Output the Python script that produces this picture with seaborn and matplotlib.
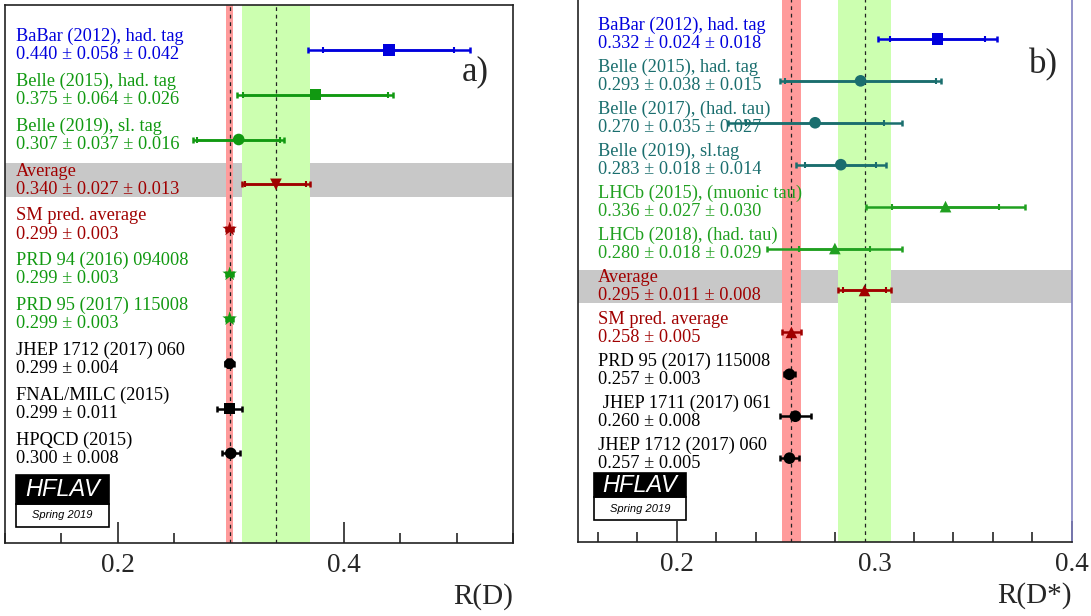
import numpy as np
import pandas as pd
import matplotlib.pyplot as plt
import seaborn as sns
from matplotlib.patches import Rectangle
from matplotlib.ticker import MultipleLocator

# ---- R(D) panel data ----
rd_labels = ["BaBar (2012), had. tag", "Belle (2015), had. tag", "Belle (2019), sl. tag",
             "Average", "SM pred. average", "PRD 94 (2016) 094008", "PRD 95 (2017) 115008",
             "JHEP 1712 (2017) 060", "FNAL/MILC (2015)", "HPQCD (2015)"]
rd_values = [0.440, 0.375, 0.307, 0.340, 0.299, 0.299, 0.299, 0.299, 0.299, 0.300]
rd_stat = [0.058, 0.064, 0.037, 0.027, 0.003, 0.003, 0.003, 0.004, 0.011, 0.008]
rd_syst = [0.042, 0.026, 0.016, 0.013, None, None, None, None, None, None]
rd_colors = ["#0000dd", "#119911", "#119911", "#a00000", "#a00000", "#119911", "#119911",
             "black", "black", "black"]
rd_markers = ["s", "s", "o", "v", "*", "*", "*", "8", "s", "o"]

# ---- R(D*) panel data ----
rds_labels = ["BaBar (2012), had. tag", "Belle (2015), had. tag", "Belle (2017), (had. tau)",
              "Belle (2019), sl.tag", "LHCb (2015), (muonic tau)", "LHCb (2018), (had. tau)",
              "Average", "SM pred. average", "PRD 95 (2017) 115008", " JHEP 1711 (2017) 061",
              "JHEP 1712 (2017) 060"]
rds_values = [0.332, 0.293, 0.270, 0.283, 0.336, 0.280, 0.295, 0.258, 0.257, 0.260, 0.257]
rds_stat = [0.024, 0.038, 0.035, 0.018, 0.027, 0.018, 0.011, 0.005, 0.003, 0.008, 0.005]
rds_syst = [0.018, 0.015, 0.027, 0.014, 0.030, 0.029, 0.008, None, None, None, None]
rds_colors = ["#0000dd", "#1a6e6e", "#1a6e6e", "#1a6e6e", "#20a020", "#20a020", "#a00000",
              "#a00000", "black", "black", "black"]
rds_markers = ["s", "o", "o", "o", "^", "^", "^", "^", "o", "o", "o"]

SERIF = ["Liberation Serif", "DejaVu Serif"]


def fmt_value(v, stat, syst):
    if syst is None:
        return f"{v:.3f} \u00b1 {stat:.3f}"
    return f"{v:.3f} \u00b1 {stat:.3f} \u00b1 {syst:.3f}"


def draw_logo(ax, x0, y0, w, hb, hw):
    """HFLAV box, coordinates in axes fraction."""
    ax.add_patch(Rectangle((x0, y0), w, hw, transform=ax.transAxes, facecolor="white",
                           edgecolor="black", lw=1.2, zorder=6))
    ax.add_patch(Rectangle((x0, y0 + hw), w, hb, transform=ax.transAxes, facecolor="black",
                           edgecolor="black", lw=1.2, zorder=6))
    ax.text(x0 + w / 2, y0 + hw + hb / 2, "HFLAV", transform=ax.transAxes, color="white",
            fontsize=17, style="italic", family="Liberation Sans", ha="center", va="center",
            zorder=7)
    ax.text(x0 + w / 2, y0 + hw / 2, "Spring 2019", transform=ax.transAxes, color="black",
            fontsize=8, style="italic", family="Liberation Sans", ha="center", va="center",
            zorder=7)


def plot_panel(ax, labels, values, stat, syst, colors, markers, avg_idx, sm_idx,
               xlim, minor, xlabel, tag, tag_x, text_x, ylim):
    rows = np.arange(len(labels))
    total = [s if y is None else np.hypot(s, y) for s, y in zip(stat, syst)]

    # bands
    ax.axhspan(avg_idx - 0.48, avg_idx + 0.29, color="#c8c8c8", lw=0, zorder=0)
    ax.axvspan(values[sm_idx] - total[sm_idx], values[sm_idx] + total[sm_idx],
               color="#ff9b9b", lw=0, zorder=1)
    ax.axvspan(values[avg_idx] - total[avg_idx], values[avg_idx] + total[avg_idx],
               color="#ccffb0", lw=0, zorder=1)
    for v in (values[sm_idx], values[avg_idx]):
        ax.axvline(v, color="#222222", ls=(0, (3, 3)), lw=0.9, zorder=2)

    # labels
    for r, lab, v, s, y, c in zip(rows, labels, values, stat, syst, colors):
        ax.annotate(lab, (text_x, r), xycoords=("axes fraction", "data"),
                    xytext=(0, 9.5), textcoords="offset points", va="center", ha="left",
                    color=c, fontsize=13.2, family=SERIF, zorder=3)
        ax.annotate(fmt_value(v, s, y), (text_x, r), xycoords=("axes fraction", "data"),
                    xytext=(0, -3.5), textcoords="offset points", va="center", ha="left",
                    color=c, fontsize=13.2, family=SERIF, zorder=3)

    # error bars: total with caps, stat with small inner caps
    for r, v, s, t, c, y in zip(rows, values, stat, total, colors, syst):
        ax.errorbar(v, r, xerr=t, color=c, lw=1.8, capsize=2.5, capthick=1.8, zorder=4)
        if y is not None:
            ax.errorbar(v, r, xerr=s, color=c, lw=1.8, capsize=2, capthick=1.5, zorder=4)

    df = pd.DataFrame({"value": values, "row": rows, "label": labels})
    sizes = {lab: (120 if m == "*" else 70) for lab, m in zip(labels, markers)}
    sns.scatterplot(data=df, x="value", y="row", hue="label", style="label", size="label",
                    palette=dict(zip(labels, colors)), markers=dict(zip(labels, markers)),
                    sizes=sizes, linewidth=0, legend=False, ax=ax, zorder=5)

    ax.set_xlim(*xlim)
    ax.set_ylim(*ylim)
    ax.set_yticks([])
    ax.set_ylabel("")
    ax.xaxis.set_minor_locator(MultipleLocator(minor))
    ax.tick_params(axis="x", which="both", bottom=True, top=False, direction="in")
    ax.tick_params(axis="x", which="major", length=15, width=1.2, labelsize=19.5, pad=7)
    ax.tick_params(axis="x", which="minor", length=7, width=1.2)
    for lab in ax.get_xticklabels():
        lab.set_family(SERIF)
    ax.set_xlabel(xlabel, loc="right", fontsize=21, family=SERIF, labelpad=4)
    for sp in ax.spines.values():
        sp.set_visible(True)
        sp.set_color("#222222")
        sp.set_linewidth(1.2)
    ax.text(tag_x, 0.875, tag, transform=ax.transAxes, fontsize=25, family=SERIF,
            ha="right", va="center")


def main():
    sns.set_theme(style="ticks")
    plt.rcParams["font.family"] = SERIF

    fig = plt.figure(figsize=(10.91, 6.16), dpi=100)
    ax1 = fig.add_axes([5 / 1091, 73 / 616, 508 / 1091, 538 / 616])
    ax2 = fig.add_axes([578 / 1091, 74 / 616, 494 / 1091, 545 / 616])

    ax1.set_xticks([0.2, 0.4])
    plot_panel(ax1, rd_labels, rd_values, rd_stat, rd_syst, rd_colors, rd_markers,
               avg_idx=3, sm_idx=4, xlim=(0.1, 0.55), minor=0.05,
               xlabel="R(D)", tag="a)", tag_x=0.952, text_x=0.022, ylim=(11, -1))
    draw_logo(ax1, 0.0217, 0.0297, 0.183, 0.054, 0.043)

    ax2.set_xticks([0.2, 0.3, 0.4])
    plot_panel(ax2, rds_labels, rds_values, rds_stat, rds_syst, rds_colors, rds_markers,
               avg_idx=6, sm_idx=7, xlim=(0.15, 0.40), minor=0.02,
               xlabel="R(D*)", tag="b)", tag_x=0.972, text_x=0.04, ylim=(12, -1))
    ax2.spines["right"].set_color("#8080c0")
    draw_logo(ax2, 0.0324, 0.0404, 0.186, 0.044, 0.042)

    fig.savefig("out.png", dpi=100)
    plt.close(fig)


if __name__ == "__main__":
    main()
